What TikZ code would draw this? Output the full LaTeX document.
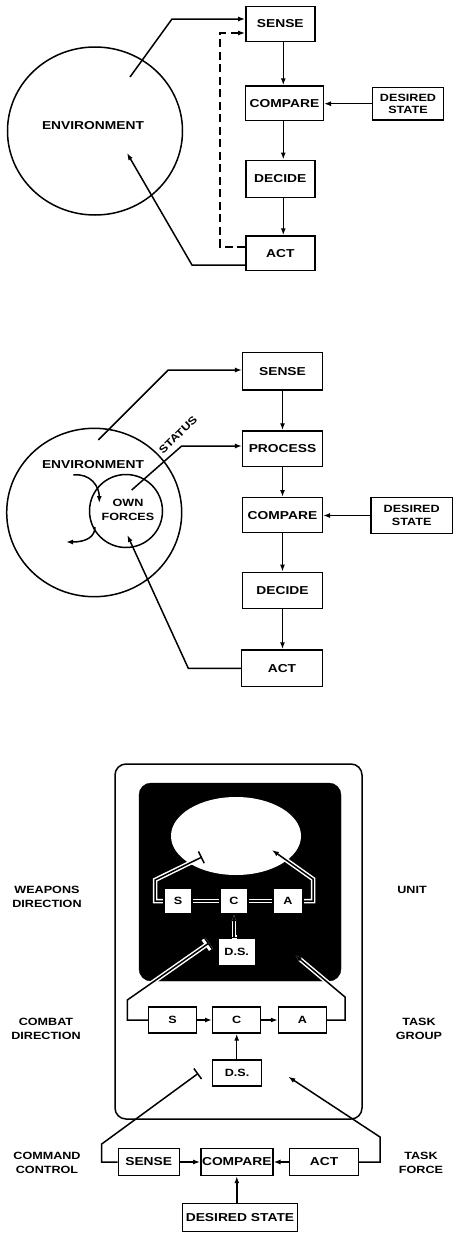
\documentclass[tikz,border=0pt]{standalone}
\usepackage{fontspec}
\setmainfont{Liberation Sans}[FakeStretch=1.2]
\usetikzlibrary{arrows.meta,shapes.geometric}
\newcommand{\hdraw}[2]{\draw[halo,#1] #2; \draw[ln,#1] #2;}
\begin{document}
\begin{tikzpicture}[x=1pt,y=-1pt,
  every node/.style={font=\bfseries\fontsize{11.5}{13.5}\selectfont},
  ln/.style={line width=1.5pt, black},
  halo/.style={line width=4.5pt, white},
  box/.style={draw, line width=1.4pt, inner sep=0pt, align=center, fill=white},
  sml/.style={font=\bfseries\fontsize{10.5}{12.5}\selectfont},
  arr/.style={-{Latex[length=7pt,width=5pt]}},
  tbar/.style={-{Bar[width=13pt]}},
  lbl/.style={align=center, font=\bfseries\fontsize{10.5}{14}\selectfont},
  dsh/.style={dash pattern=on 8pt off 4.5pt}
]
\useasboundingbox (0,0) rectangle (455,1234);

%% ---------------- top diagram ----------------
\node[draw, ellipse, ln, inner sep=0pt, minimum width=175pt, minimum height=168pt] (env1) at (95,131) {};
\node (envt1) at (93,126) {ENVIRONMENT};
\node[box, minimum width=69pt, minimum height=35pt] (se1) at (280.3,24) {SENSE};
\node[box, minimum width=77.6pt, minimum height=34.7pt] (co1) at (284.5,103.3) {COMPARE};
\node[box, sml, minimum width=70.6pt, minimum height=32.7pt] (ds1) at (408,103.7) {DESIRED\\STATE};
\node[box, minimum width=69pt, minimum height=37pt] (de1) at (280.3,178.7) {DECIDE};
\node[box, minimum width=69pt, minimum height=34.7pt] (ac1) at (280.3,253.3) {ACT};

\coordinate (p1) at (130,77);
\coordinate (k1) at (172,19);
\draw[ln,arr] (p1) -- (k1) -- (k1 -| se1.west);
\coordinate (d1) at (220,247);
\coordinate (d2) at (220,33);
\draw[ln,arr,dsh] (d1 -| ac1.west) -- (d1) -- (d2) -- (d2 -| se1.west);
\coordinate (a1) at (192,265);
\coordinate (a2) at (127,153);
\draw[ln,arr] (a1 -| ac1.west) -- (a1) -- (a2);
\draw[ln,arr] ([xshift=3pt]se1.south) -- ([xshift=3pt]se1.south |- co1.north);
\draw[ln,arr] ([xshift=-1.2pt]co1.south) -- ([xshift=-1.2pt]co1.south |- de1.north);
\draw[ln,arr] ([xshift=3pt]de1.south) -- ([xshift=3pt]de1.south |- ac1.north);
\draw[ln,arr] (ds1.west) -- (ds1.west -| co1.east);

%% ---------------- middle diagram ----------------
\node[draw, ellipse, ln, inner sep=0pt, minimum width=175pt, minimum height=168.4pt] (env2) at (94.2,512.5) {};
\node[draw, circle, ln, inner sep=0pt, minimum size=73pt] (own) at (126,511) {};
\node (envt2) at (93,465) {ENVIRONMENT};
\node[lbl] (ownt) at (128,510) {OWN\\FORCES};
\node[box, minimum width=79.7pt, minimum height=37.3pt] (se2) at (282.5,371.3) {SENSE};
\node[box, minimum width=79.7pt, minimum height=35.7pt] (pr2) at (282.5,448.8) {PROCESS};
\node[box, minimum width=79.7pt, minimum height=35pt] (co2) at (282.5,515.2) {COMPARE};
\node[box, sml, minimum width=81.3pt, minimum height=35.7pt] (ds2) at (411.7,515.5) {DESIRED\\STATE};
\node[box, minimum width=79.7pt, minimum height=36pt] (de2) at (282.5,590.3) {DECIDE};
\node[box, minimum width=80.6pt, minimum height=36.7pt] (ac2) at (282,668.3) {ACT};

\coordinate (q1) at (98.3,440);
\coordinate (q2) at (168.3,370);
\draw[ln,arr] (q1) -- (q2) -- (q2 -| se2.west);
\coordinate (s1) at (131.7,490);
\coordinate (s2) at (181.7,446);
\draw[ln,arr] (s1) -- (s2) -- (s2 -| pr2.west);
\node[sml, rotate=44] (stat) at (178,435) {STATUS};
\coordinate (r1) at (188.3,668.3);
\coordinate (r2) at (127.3,535);
\draw[ln,arr] (ac2.west) -- (r1) -- (r2);
\coordinate (c1a) at (73.3,475);
\coordinate (c1b) at (99.3,503);
\draw[ln,arr] (c1a) .. controls (90,473) and (99.3,486) .. (c1b);
\coordinate (c2a) at (95,527);
\coordinate (c2b) at (66,542);
\draw[ln,arr] (c2a) .. controls (95,537) and (86,542) .. (c2b);
\draw[ln,arr] (se2.south) -- (pr2.north);
\draw[ln,arr] (pr2.south) -- (co2.north);
\draw[ln,arr] (co2.south) -- (de2.north);
\draw[ln,arr] (de2.south) -- (de2.south |- ac2.north);
\draw[ln,arr] (ds2.west) -- (ds2.west -| co2.east);

%% ---------------- bottom diagram ----------------
\node[draw, ln, rounded corners=11pt, inner sep=0pt, minimum width=247pt, minimum height=355pt] (outer) at (238.5,941.5) {};
\node[draw, fill=black, rounded corners=12pt, inner sep=0pt, minimum width=202pt, minimum height=198pt] (dark) at (240,882) {};
\node[fill=white, ellipse, inner sep=0pt, minimum width=130pt, minimum height=78pt] (unit) at (236,836) {};

% weapons direction level (inside dark panel)
\coordinate (w2) at (155,880);
\coordinate (w3) at (202,857);
\coordinate (w4) at (313,879);
\coordinate (w5) at (272,850);
\node[box, sml, minimum width=28pt, minimum height=25pt] (sS) at (178,901) {S};
\node[box, sml, minimum width=28pt, minimum height=25pt] (sC) at (234,901) {C};
\node[box, sml, minimum width=30pt, minimum height=25pt] (sA) at (288,901) {A};
\node[box, sml, minimum width=37pt, minimum height=27pt] (sD) at (236.7,951.7) {D.S.};
\hdraw{tbar}{(sS.west) -- (sS.west -| w2) -- (w2) -- (w3)}
\hdraw{arr}{(sA.east) -- (sA.east -| w4) -- (w4) -- (w5)}
\hdraw{}{(sS.east) -- (sC.west)}
\hdraw{}{(sC.east) -- (sA.west)}
\hdraw{arr}{(sD.north) -- (sD.north -| sC.south) -- (sC.south)}
\foreach \n in {sS,sC,sA,sD} {\draw[line width=1.4pt] (\n.south west) rectangle (\n.north east);}

% combat direction level
\node[box, sml, minimum width=48pt, minimum height=26pt] (S2) at (172.5,1020) {S};
\node[box, sml, minimum width=48pt, minimum height=26pt] (C2) at (236.7,1020) {C};
\node[box, sml, minimum width=48pt, minimum height=26pt] (A2) at (302.5,1020) {A};
\node[box, sml, minimum width=49pt, minimum height=26pt] (D2) at (237,1073) {D.S.};
\coordinate (m1) at (127.3,1000);
\coordinate (m2) at (209,943);
\coordinate (m3) at (345,997);
\coordinate (m4) at (295,955);
\hdraw{tbar}{(S2.west) -- (S2.west -| m1) -- (m1) -- (m2)}
\hdraw{arr}{(A2.east) -- (A2.east -| m3) -- (m3) -- (m4)}
\draw[ln,arr] (S2.east) -- (C2.west);
\draw[ln,arr] (C2.east) -- (A2.west);
\draw[ln,arr] (D2.north -| C2.south) -- (C2.south);

% command control level
\node[box, minimum width=61pt, minimum height=27pt] (S3) at (148.7,1162) {SENSE};
\node[box, minimum width=72pt, minimum height=27pt] (C3) at (236.8,1162) {COMPARE};
\node[box, minimum width=68.5pt, minimum height=27pt] (A3) at (324,1162) {ACT};
\node[box, minimum width=115pt, minimum height=28pt] (D3) at (240,1217.5) {DESIRED STATE};
\coordinate (n1) at (101.7,1144);
\coordinate (n2) at (198.3,1073.3);
\coordinate (n3) at (380,1137);
\coordinate (n4) at (288.3,1076.7);
\draw[ln,tbar] (S3.west) -- (S3.west -| n1) -- (n1) -- (n2);
\draw[ln,arr] (A3.east) -- (A3.east -| n3) -- (n3) -- (n4);
\draw[ln,arr] (S3.east) -- (C3.west);
\draw[ln,arr] (A3.west) -- (C3.east);
\draw[ln,arr] (D3.north -| C3.south) -- (C3.south);

% side labels
\node[lbl] (lwd) at (47,897) {WEAPONS\\DIRECTION};
\node[lbl] (lun) at (412,890) {UNIT};
\node[lbl] (lcd) at (46,1029) {COMBAT\\DIRECTION};
\node[lbl] (ltg) at (419,1029) {TASK\\GROUP};
\node[lbl] (lcc) at (47,1162.5) {COMMAND\\CONTROL};
\node[lbl] (ltf) at (421,1162.5) {TASK\\FORCE};
\end{tikzpicture}
\end{document}
